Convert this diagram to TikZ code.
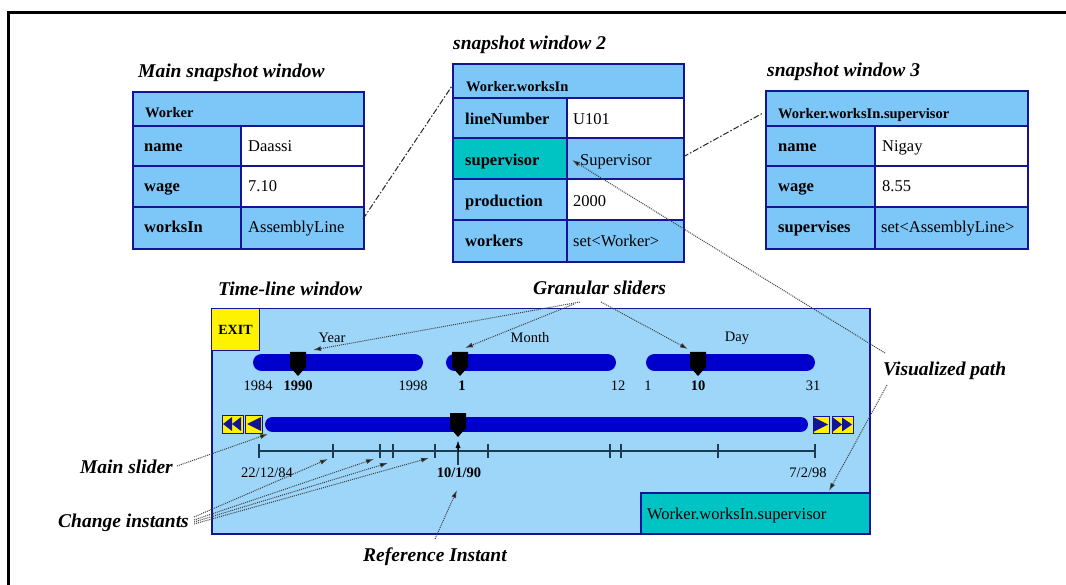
\documentclass[tikz,border=0pt]{standalone}
\usepackage{fontspec}
\setmainfont{Liberation Serif}
\usetikzlibrary{arrows.meta}
\definecolor{navy}{RGB}{20,20,150}
\definecolor{cellblue}{RGB}{125,198,248}
\definecolor{tlbg}{RGB}{158,214,250}
\definecolor{tealc}{RGB}{0,196,196}
\definecolor{sliderc}{RGB}{0,0,205}
\definecolor{axisc}{RGB}{30,60,80}
\tikzset{
  ttl/.style={font=\fontsize{19.5}{22}\selectfont\bfseries\itshape, anchor=base west, inner sep=0},
  lab/.style={font=\fontsize{16.5}{19}\selectfont\bfseries, anchor=base west, inner sep=0},
  val/.style={font=\fontsize{16.5}{19}\selectfont, anchor=base west, inner sep=0},
  hdr/.style={font=\fontsize{14.5}{17}\selectfont\bfseries, anchor=base west, inner sep=0},
  sm/.style={font=\fontsize{14.5}{17}\selectfont, inner sep=0},
  smb/.style={font=\fontsize{14.5}{17}\selectfont\bfseries, inner sep=0},
  gridl/.style={draw=navy, line width=1.5},
  tblbox/.style={draw=navy, line width=2, anchor=north west, inner sep=0},
  ptr/.style={dash pattern=on 1pt off 1pt, line width=1, draw=black!75, -{Latex[length=8,width=5,fill=black]}},
  linkl/.style={dash pattern=on 6pt off 2pt on 1.5pt off 2pt, line width=1, draw=black!85},
  btn/.style={draw=navy, fill=yellow, line width=1, inner sep=0},
  bar/.style={line cap=round, draw=sliderc},
  axisl/.style={draw=axisc, line width=1.5},
  sliderhandle/.pic={\fill[black] (-8,0) -- (8,0) -- (8,15) -- (0,24) -- (-8,15) -- cycle;}
}
\begin{document}
\begin{tikzpicture}[x=1pt,y=-1pt]
\useasboundingbox (0,0) rectangle (1066,585);
\fill[white] (0,0) rectangle (1066,585);
\draw[line width=3] (8,590) -- (8,13) -- (1070,13);

% ---------------- Table 1 ----------------
\node[ttl] (t1title) at (138,78) {Main snapshot window};
\fill[cellblue] (132,91) rectangle (363,248);
\fill[white] (241,126) rectangle (363,207);
\draw[gridl] (132,126) -- (363,126) (132,166) -- (363,166) (132,207) -- (363,207) (241,126) -- (241,248);
\node[tblbox, minimum width=231, minimum height=157] (T1) at (132,91) {};
\node[hdr] (t1h) at (145,118) {Worker};
\node[lab] (t1l1) at (144,152) {name};
\node[val] (t1v1) at (248,152) {Daassi};
\node[lab] (t1l2) at (144,192) {wage};
\node[val] (t1v2) at (248,192) {7.10};
\node[lab] (t1l3) at (144,233) {worksIn};
\node[val] (t1v3) at (248,233) {AssemblyLine};

% ---------------- Table 2 ----------------
\node[ttl] (t2title) at (453,50) {snapshot window 2};
\fill[cellblue] (452,63) rectangle (683,261);
\fill[white] (567,98) rectangle (683,138);
\fill[white] (567,179) rectangle (683,220);
\fill[tealc] (452,138) rectangle (567,179);
\draw[gridl] (452,98) -- (683,98) (452,138) -- (683,138) (452,179) -- (683,179) (452,220) -- (683,220) (567,98) -- (567,261);
\node[tblbox, minimum width=231, minimum height=198] (T2) at (452,63) {};
\node[hdr] (t2h) at (466,92) {Worker.worksIn};
\node[lab] (t2l1) at (465,125) {lineNumber};
\node[val] (t2v1) at (573,125) {U101};
\node[lab] (t2l2) at (465,166) {supervisor};
\node[val] (t2v2) at (580,166) {Supervisor};
\node[lab] (t2l3) at (465,207) {production};
\node[val] (t2v3) at (573,207) {2000};
\node[lab] (t2l4) at (465,247) {workers};
\node[val] (t2v4) at (573,247) {set<Worker>};

% ---------------- Table 3 ----------------
\node[ttl] (t3title) at (767,77) {snapshot window 3};
\fill[cellblue] (765,90) rectangle (1027,248);
\fill[white] (875,126) rectangle (1027,207);
\draw[gridl] (765,126) -- (1027,126) (765,166) -- (1027,166) (765,207) -- (1027,207) (875,126) -- (875,248);
\node[tblbox, minimum width=262, minimum height=158] (T3) at (765,90) {};
\node[hdr] (t3h) at (778,119) {Worker.worksIn.supervisor};
\node[lab] (t3l1) at (778,152) {name};
\node[val] (t3v1) at (882,152) {Nigay};
\node[lab] (t3l2) at (778,192) {wage};
\node[val] (t3v2) at (882,192) {8.55};
\node[lab] (t3l3) at (778,233) {supervises};
\node[val] (t3v3) at (881,233) {set<AssemblyLine>};

% links between tables
\coordinate (l1a) at (363,219);
\coordinate (l1b) at (452,86);
\draw[linkl] (l1a) -- (l1b);
\coordinate (l2a) at (683,157);
\coordinate (l2b) at (763,113);
\draw[linkl] (l2a) -- (l2b);

% ---------------- Time-line window ----------------
\node[ttl] (tltitle) at (218,296) {Time-line window};
\node[draw=navy, fill=tlbg, line width=1.5, minimum width=658, minimum height=225, anchor=north west, inner sep=0] (TL) at (211,308) {};
\node[draw=navy, fill=yellow, line width=1, minimum width=48, minimum height=42, anchor=north west, inner sep=0, font=\fontsize{14}{16}\selectfont\bfseries] (exit) at (211,308) {EXIT};

% granular sliders
\draw[bar, line width=17] (261.5,362.5) -- (414.5,362.5);
\draw[bar, line width=17] (454.5,362.5) -- (607.5,362.5);
\draw[bar, line width=17] (654.5,362.5) -- (806.5,362.5);
\pic at (298,352) {sliderhandle};
\pic at (460,352) {sliderhandle};
\pic at (698,352) {sliderhandle};
\node[sm] (yearl) at (332,338) {Year};
\node[sm] (monthl) at (530,338) {Month};
\node[sm] (dayl) at (737,338) {Day};
\node[sm] (n1984) at (258,386) {1984};
\node[smb] (n1990) at (298,386) {1990};
\node[sm] (n1998) at (413,386) {1998};
\node[smb] (nm1) at (462,386) {1};
\node[sm] (nm12) at (618,386) {12};
\node[sm] (nd1) at (648,386) {1};
\node[smb] (nd10) at (698,386) {10};
\node[sm] (nd31) at (813,386) {31};

% main slider
\draw[bar, line width=15] (272.5,424.5) -- (800.5,424.5);
\pic at (458,413) {sliderhandle};
\node[btn, minimum width=21, minimum height=18] (bll) at (232.5,424) {};
\node[btn, minimum width=17, minimum height=18] (bl) at (253.5,424) {};
\node[btn, minimum width=16, minimum height=17] (br) at (821,424.5) {};
\node[btn, minimum width=21, minimum height=17] (brr) at (842.5,424.5) {};
\fill[navy] (232,417) -- (223,424) -- (232,431) -- cycle;
\fill[navy] (241,417) -- (232,424) -- (241,431) -- cycle;
\fill[navy] (261,417) -- (247,424) -- (261,431) -- cycle;
\fill[navy] (814,417.5) -- (828,424.5) -- (814,431.5) -- cycle;
\fill[navy] (833,417.5) -- (842,424.5) -- (833,431.5) -- cycle;
\fill[navy] (842,417.5) -- (852,424.5) -- (842,431.5) -- cycle;

% time axis
\coordinate (ax0) at (259,451);
\coordinate (ax1) at (815,451);
\draw[axisl] (ax0) -- (ax1);
\foreach \x in {259,333,380,393,435,488,610,621,718,815}
  \draw[axisl] (\x,444) -- (\x,458);
\draw[axisl] (458,446) -- (458,465);
\draw[black, -{Latex[length=7,width=5]}] (458,452) -- (458,441);
\node[sm] (d0) at (267,473) {22/12/84};
\node[smb] (dref) at (459,473) {10/1/90};
\node[sm] (d1) at (808,473) {7/2/98};

% visualized path box
\node[draw=navy, fill=tealc, line width=1.5, minimum width=229, minimum height=41, anchor=north west, inner sep=0] (VPB) at (640,492) {};
\node[val] (vpbt) at (647,519) {Worker.worksIn.supervisor};

% ---------------- annotations ----------------
\node[ttl] (gran) at (533,295) {Granular sliders};
\node[ttl] (vpath) at (883,376) {Visualized path};
\node[ttl, anchor=base east] (mslider) at (173,473) {Main slider};
\node[ttl] (chg) at (58,527) {Change instants};
\node[ttl] (refi) at (363,561) {Reference Instant};

\coordinate (g1) at (580,302);
\coordinate (g2) at (574,304);
\coordinate (g3) at (601,302);
\coordinate (gy) at (313,350);
\coordinate (gm) at (465,348);
\coordinate (gd) at (688,349);
\draw[ptr] (g1) -- (gy);
\draw[ptr] (g2) -- (gm);
\draw[ptr] (g3) -- (gd);

\coordinate (vp1) at (885,353);
\coordinate (vp2) at (887,385);
\coordinate (supt) at (572,160);
\coordinate (vpbtop) at (829,491);
\draw[ptr] (vp1) -- (supt);
\draw[ptr] (vp2) -- (vpbtop);

\coordinate (ms0) at (177,466);
\coordinate (ms1) at (268,434);
\draw[ptr] (ms0) -- (ms1);

\coordinate (c0) at (194,517);
\coordinate (c0b) at (194,520);
\coordinate (c0c) at (194,522);
\coordinate (c0d) at (194,524);
\coordinate (ct1) at (328,459);
\coordinate (ct2) at (374,459);
\coordinate (ct3) at (388,463);
\coordinate (ct4) at (429,458);
\draw[ptr] (c0) -- (ct1);
\draw[ptr] (c0b) -- (ct2);
\draw[ptr] (c0c) -- (ct3);
\draw[ptr] (c0d) -- (ct4);

\coordinate (r0) at (435,539);
\coordinate (r1) at (457,490);
\draw[ptr] (r0) -- (r1);
\end{tikzpicture}
\end{document}
